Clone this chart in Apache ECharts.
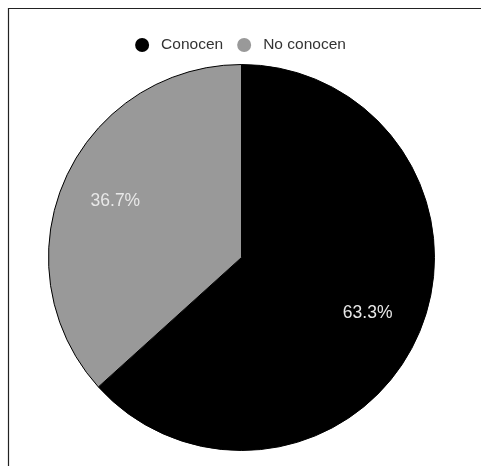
<!DOCTYPE html>
<html>
<head>
<meta charset="utf-8">
<script src="https://cdn.jsdelivr.net/npm/echarts@6/dist/echarts.min.js"></script>
<style>html,body{margin:0;padding:0;background:#fff}#c{width:481px;height:466px}</style>
</head>
<body>
<div id="c"></div>
<script>
const categories = ['Conocen', 'No conocen'];
const values = [63.3, 36.7];
const colors = ['#000000', '#999999'];

const chart = echarts.init(document.getElementById('c'), null, {renderer: 'canvas'});
const data = categories.map((n, i) => ({name: n, value: values[i], itemStyle: {color: colors[i]}}));
chart.setOption({
  animation: false,
  graphic: [{
    type: 'rect', silent: true, z: 100,
    shape: {x: 8.5, y: 8.5, width: 600, height: 600},
    style: {fill: 'none', stroke: '#222', lineWidth: 1.2}
  }],
  legend: {
    data: categories, top: 32, left: 'center', icon: 'circle',
    itemWidth: 28, itemHeight: 14, itemGap: 14,
    itemStyle: {borderWidth: 0},
    textStyle: {color: '#333', fontSize: 15.5, fontFamily: 'Liberation Sans, Arial, sans-serif'}
  },
  series: [{
    type: 'pie', radius: 193, center: [241.5, 257.5], startAngle: 90, clockwise: true,
    label: {show: false}, labelLine: {show: false},
    itemStyle: {borderColor: '#000', borderWidth: 1},
    emphasis: {disabled: true},
    data: data
  }, {
    type: 'pie', radius: [77, 193], center: [241.5, 257.5], startAngle: 90, clockwise: true,
    silent: true, legendHoverLink: false,
    itemStyle: {color: 'transparent', borderWidth: 0},
    label: {show: true, position: 'inside', color: '#e8e8e8', fontSize: 17.5,
      fontFamily: 'Liberation Sans, Arial, sans-serif',
      formatter: p => p.value.toFixed(1) + '%'},
    labelLine: {show: false},
    emphasis: {disabled: true},
    data: categories.map((n, i) => ({name: n + ' ', value: values[i]}))
  }]
});
</script>
</body>
</html>
